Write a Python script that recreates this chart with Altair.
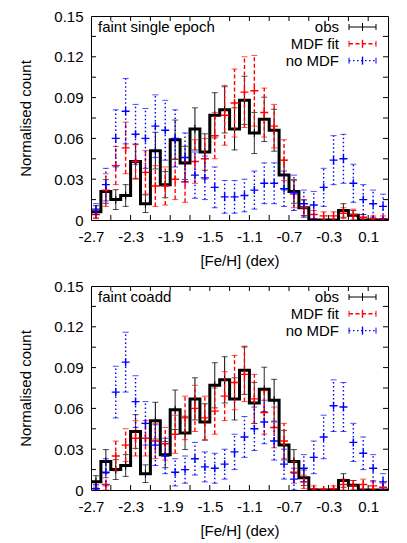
import altair as alt
import pandas as pd

# ---------------- data ----------------
FE_H = [-2.65, -2.55, -2.45, -2.35, -2.25, -2.15, -2.05, -1.95, -1.85, -1.75,
        -1.65, -1.55, -1.45, -1.35, -1.25, -1.15, -1.05, -0.95, -0.85, -0.75,
        -0.65, -0.55, -0.45, -0.35, -0.25, -0.15, -0.05, 0.05, 0.15, 0.25]
BIN_WIDTH = 0.1

OBS = [0.006, 0.021, 0.015, 0.018, 0.043, 0.012, 0.051, 0.026, 0.059, 0.042,
       0.067, 0.050, 0.077, 0.081, 0.067, 0.088, 0.064, 0.074, 0.066, 0.033,
       0.021, 0.009, 0.0, 0.0, 0.0, 0.007, 0.0035, 0.0, 0.0, 0.0]
OBS_ERR = [0.0045, 0.0087, 0.0073, 0.008, 0.0124, 0.0065, 0.0135, 0.0096, 0.0145, 0.0122,
           0.0155, 0.0134, 0.0166, 0.017, 0.0155, 0.0177, 0.0151, 0.0163, 0.0154, 0.0109,
           0.0087, 0.0057, 0.0, 0.0, 0.0, 0.005, 0.0035, 0.0, 0.0, 0.0]

FIT_SINGLE = [0.004, 0.022, 0.040, 0.053, 0.043, 0.035, 0.025, 0.025, 0.030, 0.028,
              0.043, 0.045, 0.062, 0.077, 0.086, 0.094, 0.095, 0.079, 0.069, 0.044,
              0.019, 0.009, 0.004, 0.003, 0.003, 0.005, 0.004, 0.002, 0.001, 0.001]
FIT_SINGLE_ERR = [0.003, 0.012, 0.014, 0.019, 0.013, 0.016, 0.015, 0.014, 0.015, 0.015,
                  0.016, 0.015, 0.017, 0.022, 0.025, 0.026, 0.026, 0.018, 0.016, 0.015,
                  0.010, 0.006, 0.003, 0.003, 0.003, 0.004, 0.004, 0.002, 0.002, 0.002]
NOMDF_SINGLE = [0.008, 0.026, 0.060, 0.080, 0.063, 0.060, 0.069, 0.066, 0.060, 0.046,
                0.033, 0.031, 0.024, 0.017, 0.017, 0.018, 0.022, 0.027, 0.027, 0.023,
                0.020, 0.012, 0.011, 0.024, 0.044, 0.045, 0.027, 0.015, 0.012, 0.010]
NOMDF_SINGLE_ERR = [0.004, 0.012, 0.021, 0.024, 0.022, 0.022, 0.023, 0.022, 0.021, 0.018,
                    0.017, 0.016, 0.015, 0.012, 0.012, 0.012, 0.014, 0.015, 0.015, 0.013,
                    0.013, 0.010, 0.010, 0.014, 0.018, 0.018, 0.014, 0.011, 0.010, 0.009]

FIT_COADD = [0.001, 0.004, 0.025, 0.033, 0.038, 0.038, 0.036, 0.034, 0.041, 0.053,
             0.060, 0.053, 0.058, 0.069, 0.079, 0.085, 0.067, 0.057, 0.046, 0.036,
             0.013, 0.006, 0.001, 0.000, 0.001, 0.004, 0.003, 0.004, 0.003, 0.002]
FIT_COADD_ERR = [0.002, 0.005, 0.011, 0.012, 0.013, 0.013, 0.013, 0.012, 0.014, 0.016,
                 0.017, 0.016, 0.017, 0.018, 0.020, 0.020, 0.018, 0.016, 0.015, 0.013,
                 0.008, 0.005, 0.002, 0.001, 0.002, 0.004, 0.004, 0.004, 0.004, 0.003]
NOMDF_COADD = [0.001, 0.013, 0.072, 0.094, 0.065, 0.049, 0.033, 0.025, 0.013, 0.015,
               0.023, 0.017, 0.016, 0.019, 0.028, 0.039, 0.045, 0.050, 0.036, 0.019,
               0.008, 0.016, 0.024, 0.039, 0.062, 0.061, 0.035, 0.027, 0.016, 0.006]
NOMDF_COADD_ERR = [0.003, 0.010, 0.019, 0.022, 0.019, 0.016, 0.015, 0.013, 0.010, 0.010,
                   0.012, 0.011, 0.011, 0.011, 0.013, 0.015, 0.016, 0.016, 0.014, 0.011,
                   0.008, 0.010, 0.012, 0.016, 0.019, 0.018, 0.014, 0.012, 0.010, 0.006]

X_LABELS = [-2.7, -2.3, -1.9, -1.5, -1.1, -0.7, -0.3, 0.1]
X_TICKS = [-2.5, -2.3, -2.1, -1.9, -1.7, -1.5, -1.3, -1.1, -0.9, -0.7, -0.5, -0.3, -0.1, 0.1]
Y_LABELS = [0, 0.03, 0.06, 0.09, 0.12, 0.15]
Y_TICKS = [0.015, 0.03, 0.045, 0.06, 0.075, 0.09, 0.105, 0.12, 0.135]
X_DOMAIN = [-2.7, 0.3]
Y_DOMAIN = [0, 0.15]

LEGEND = ["obs", "MDF fit", "no MDF"]
COLORS = ["#000000", "#ff0000", "#0000ff"]
DASHES = [[1, 0], [4, 2.5], [1.5, 2.5]]

# ---------------- layout / style ----------------
W, H = 297, 204
FONT = "Liberation Sans"
FS = 15
TICK = 5
CAP = 6
PLUS = "M-1,0L1,0M0,-1L0,1"

x_axis = alt.Axis(values=X_LABELS,
                  labelExpr="replace(format(datum.value, '.1f'), '\u2212', '-')",
                  ticks=False, domain=False, grid=False,
                  labelOverlap=False, labelFlush=False,
                  labelPadding=9, titlePadding=9, title="[Fe/H] (dex)")
y_axis = alt.Axis(values=Y_LABELS, labelExpr="datum.value == 0 ? '0' : format(datum.value, '.2f')",
                  ticks=False, domain=False, grid=False, labelOverlap=False, labelFlush=False,
                  labelPadding=8, titlePadding=20, title="Normalised count")
xs = alt.Scale(domain=X_DOMAIN, nice=False, zero=False)
ys = alt.Scale(domain=Y_DOMAIN, nice=False, zero=False)


def X(field):
    return alt.X(field, type="quantitative", scale=xs, axis=x_axis)


def Y(field):
    return alt.Y(field, type="quantitative", scale=ys, axis=y_axis)


def errorbars(vals, errs, color, dash, width):
    df = pd.DataFrame({"feh": FE_H, "v": vals, "err": errs})
    df["lo"] = (df["v"] - df["err"]).clip(lower=0)
    df["hi"] = df["v"] + df["err"]
    base = alt.Chart(df)
    bars = base.mark_rule(color=color, strokeDash=dash, strokeWidth=width, clip=True).encode(
        x=X("feh"), y=Y("lo"), y2="hi")
    cap_lo = base.mark_tick(color=color, orient="horizontal", size=CAP, thickness=1, clip=True).encode(
        x=X("feh"), y=Y("lo"))
    cap_hi = base.mark_tick(color=color, orient="horizontal", size=CAP, thickness=1, clip=True).encode(
        x=X("feh"), y=Y("hi"))
    pts = base.mark_point(shape=PLUS, size=64, filled=False, color=color, strokeWidth=width,
                          opacity=1, clip=True).encode(x=X("feh"), y=Y("v"))
    return [bars, cap_lo, cap_hi, pts]


def legend_entry(i, label):
    ypos = 11 + 16.8 * i
    color, dash = COLORS[i], DASHES[i]
    w = 1 if i == 0 else 1.4
    one = alt.Chart(pd.DataFrame({"t": [label]}))
    layers = [
        one.mark_text(align="right", baseline="middle", font=FONT, fontSize=FS, color="black").encode(
            text="t:N", x=alt.value(248), y=alt.value(ypos)),
        one.mark_rule(color=color, strokeDash=dash, strokeWidth=w).encode(
            x=alt.value(258), x2=alt.value(285), y=alt.value(ypos)),
        one.mark_rule(color=color, strokeWidth=1).encode(
            x=alt.value(258), y=alt.value(ypos - 3), y2=alt.value(ypos + 3)),
        one.mark_rule(color=color, strokeWidth=1).encode(
            x=alt.value(285), y=alt.value(ypos - 3), y2=alt.value(ypos + 3)),
        one.mark_rule(color=color, strokeWidth=w).encode(
            x=alt.value(271.5), y=alt.value(ypos - 4), y2=alt.value(ypos + 4)),
    ]
    return layers


def panel(title, fit, fit_err, nomdf, nomdf_err):
    # inward ticks on all four sides
    xt = alt.Chart(pd.DataFrame({"v": X_TICKS}))
    yt = alt.Chart(pd.DataFrame({"v": Y_TICKS}))
    ticks = [
        xt.mark_rule(color="black").encode(x=X("v"), y=alt.value(H), y2=alt.value(H - TICK)),
        xt.mark_rule(color="black").encode(x=X("v"), y=alt.value(0), y2=alt.value(TICK)),
        yt.mark_rule(color="black").encode(y=Y("v"), x=alt.value(0), x2=alt.value(TICK)),
        yt.mark_rule(color="black").encode(y=Y("v"), x=alt.value(W), x2=alt.value(W - TICK)),
    ]
    # observed histogram as steps
    edges = [c - BIN_WIDTH / 2 for c in FE_H] + [FE_H[-1] + BIN_WIDTH / 2]
    step_df = pd.DataFrame({"edge": edges, "v": OBS + [OBS[-1]]})
    step = alt.Chart(step_df).mark_line(interpolate="step-after", color="black",
                                        strokeWidth=3, clip=True).encode(x=X("edge"), y=Y("v"))
    obs_err = errorbars(OBS, OBS_ERR, "#000000", [1, 0], 1)
    red = errorbars(fit, fit_err, COLORS[1], DASHES[1], 1.4)
    blue = errorbars(nomdf, nomdf_err, COLORS[2], DASHES[2], 1.4)
    label = alt.Chart(pd.DataFrame({"t": [title]})).mark_text(
        align="left", baseline="middle", font=FONT, fontSize=FS, color="black").encode(
        text="t:N", x=alt.value(7), y=alt.value(11))
    leg = []
    for i, lab in enumerate(LEGEND):
        leg += legend_entry(i, lab)
    return alt.layer(*ticks, *obs_err, step, *red, *blue, label, *leg).properties(width=W, height=H)


top = panel("faint single epoch", FIT_SINGLE, FIT_SINGLE_ERR, NOMDF_SINGLE, NOMDF_SINGLE_ERR)
bottom = panel("faint coadd", FIT_COADD, FIT_COADD_ERR, NOMDF_COADD, NOMDF_COADD_ERR)

chart = alt.vconcat(top, bottom, spacing=66, bounds="flush").properties(
    padding={"left": 10, "top": 0, "right": 5, "bottom": 0}
).configure_view(stroke="black", strokeWidth=1).configure_axis(
    labelFont=FONT, titleFont=FONT, labelFontSize=FS, titleFontSize=FS,
    labelColor="black", titleColor="black", titleFontWeight="normal"
)

chart.save("out.html", embed_options={"renderer": "svg", "actions": False})
